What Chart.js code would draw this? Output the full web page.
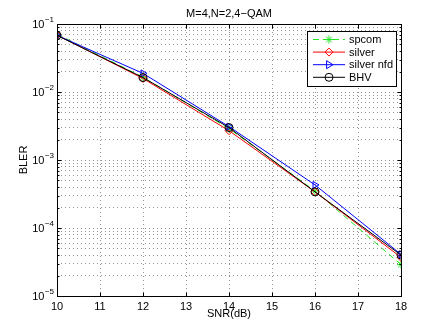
<!DOCTYPE html>
<html>
<head>
<meta charset="utf-8">
<script src="https://cdn.jsdelivr.net/npm/chart.js@4"></script>
<style>
  html, body { margin: 0; padding: 0; background: #fff; }
  #wrap { width: 443px; height: 333px; }
</style>
</head>
<body>
<div id="wrap"><canvas id="chart1"></canvas></div>
<script>
/* data */
const snr = [10, 12, 14, 16, 18];
const spcom = [0.071, 0.0165, 0.0029, 0.00035, 0.000029];
const silver = [0.069, 0.0158, 0.0027, 0.00034, 0.000037];
const silverNfd = [0.068, 0.0188, 0.0031, 0.00043, 0.000041];
const bhv = [0.068, 0.0163, 0.0030, 0.00034, 0.000040];

const seriesNames = ['spcom', 'silver', 'silver nfd', 'BHV'];
const xTicks = [10, 11, 12, 13, 14, 15, 16, 17, 18];
const yDecades = [-5, -4, -3, -2, -1];
const chartTitle = 'M=4,N=2,4\u2212QAM';

const FONT = "'Liberation Sans', Arial, Helvetica, sans-serif";

const toPoints = vals => vals.map((v, i) => ({x: snr[i], y: v}));

/* manual marker drawing so legend matches the plot */
function drawMarker(ctx, style, x, y, r) {
  ctx.beginPath();
  if (style === 'star') {
    for (let k = 0; k < 4; k++) {
      const a = k * Math.PI / 4;
      ctx.moveTo(x - r * Math.cos(a), y - r * Math.sin(a));
      ctx.lineTo(x + r * Math.cos(a), y + r * Math.sin(a));
    }
  } else if (style === 'rectRot') {
    ctx.moveTo(x, y - r); ctx.lineTo(x + r, y); ctx.lineTo(x, y + r); ctx.lineTo(x - r, y); ctx.closePath();
  } else if (style === 'triangle') {
    ctx.moveTo(x + r, y); ctx.lineTo(x - r * 0.6, y - r); ctx.lineTo(x - r * 0.6, y + r); ctx.closePath();
  } else {
    ctx.arc(x, y, r, 0, Math.PI * 2);
  }
  ctx.stroke();
}

const matlabAxes = {
  id: 'matlabAxes',
  afterDraw(chart) {
    const ctx = chart.ctx;
    const a = chart.chartArea;
    const x = chart.scales.x, y = chart.scales.y;
    ctx.save();
    ctx.strokeStyle = '#000';
    ctx.lineWidth = 1;
    ctx.setLineDash([]);

    /* frame */
    const L = Math.round(a.left) + 0.5, R = Math.round(a.right) + 0.5;
    const T = Math.round(a.top) + 0.5, B = Math.round(a.bottom) + 0.5;
    ctx.strokeRect(L, T, R - L, B - T);

    /* inward ticks */
    ctx.beginPath();
    xTicks.forEach(v => {
      const px = Math.round(x.getPixelForValue(v)) + 0.5;
      ctx.moveTo(px, B); ctx.lineTo(px, B - 4);
      ctx.moveTo(px, T); ctx.lineTo(px, T + 4);
    });
    y.ticks.forEach(t => {
      const py = Math.round(y.getPixelForValue(t.value)) + 0.5;
      const len = t.major ? 4 : 2;
      ctx.moveTo(L, py); ctx.lineTo(L + len, py);
      ctx.moveTo(R, py); ctx.lineTo(R - len, py);
    });
    ctx.stroke();

    /* y tick labels 10^k */
    ctx.fillStyle = '#000';
    ctx.textBaseline = 'middle';
    yDecades.forEach(e => {
      const py = y.getPixelForValue(Math.pow(10, e));
      const exp = '\u2212' + Math.abs(e);
      ctx.font = '8px ' + FONT;
      const ew = ctx.measureText(exp).width;
      ctx.textAlign = 'left';
      const ex = a.left - 3 - ew;
      ctx.fillText(exp, ex, py - 4);
      ctx.font = '11px ' + FONT;
      ctx.textAlign = 'right';
      ctx.fillText('10', ex - 0.5, py + 1);
    });

    /* title */
    ctx.font = '11px ' + FONT;
    ctx.textAlign = 'center';
    ctx.fillText(chartTitle, (a.left + a.right) / 2, 14);

    /* legend */
    const bx = 307.5, by = 31.5, bw = 89, bh = 55;
    ctx.fillStyle = '#fff';
    ctx.fillRect(bx, by, bw, bh);
    ctx.strokeStyle = '#000';
    ctx.strokeRect(bx, by, bw, bh);
    chart.data.datasets.forEach((ds, i) => {
      const ry = 39.5 + i * 12.6;
      ctx.strokeStyle = ds.borderColor;
      ctx.lineWidth = 1;
      ctx.setLineDash(ds.borderDash || []);
      ctx.beginPath();
      ctx.moveTo(313, ry); ctx.lineTo(345, ry);
      ctx.stroke();
      ctx.setLineDash([]);
      drawMarker(ctx, ds.pointStyle, 329, ry, 4);
      ctx.fillStyle = '#000';
      ctx.font = '11px ' + FONT;
      ctx.textAlign = 'left';
      ctx.fillText(ds.label, 349, ry + 0.5);
    });
    ctx.restore();
  }
};

const chart1 = document.querySelector('#chart1');

const gridStyle = {color: 'rgba(0,0,0,0.42)', lineWidth: 1, drawTicks: false, tickLength: 0};

new Chart(chart1, {
  type: 'line',
  data: {
    datasets: [{
      label: seriesNames[0],
      data: toPoints(spcom),
      borderColor: '#22e622',
      borderDash: [6, 4],
      pointStyle: 'star',
      order: 4
    }, {
      label: seriesNames[1],
      data: toPoints(silver),
      borderColor: '#ff0000',
      pointStyle: 'rectRot',
      order: 3
    }, {
      label: seriesNames[2],
      data: toPoints(silverNfd),
      borderColor: '#0000ff',
      pointStyle: 'triangle',
      pointRotation: 90,
      order: 2
    }, {
      label: seriesNames[3],
      data: toPoints(bhv),
      borderColor: '#000000',
      pointStyle: 'circle',
      order: 1
    }]
  },
  options: {
    responsive: true,
    maintainAspectRatio: false,
    animation: false,
    elements: {
      line: {borderWidth: 1, tension: 0, fill: false},
      point: {radius: 4, borderWidth: 1, backgroundColor: 'rgba(0,0,0,0)', hoverRadius: 4}
    },
    layout: {padding: {left: 0, right: 42, top: 24, bottom: 0}},
    plugins: {
      legend: {display: false},
      tooltip: {enabled: false},
      title: {display: false}
    },
    scales: {
      x: {
        type: 'linear',
        min: 10,
        max: 18,
        afterBuildTicks: s => { s.ticks = xTicks.map(v => ({value: v})); },
        afterFit: s => { s.height = 37; },
        ticks: {color: '#000', font: {family: FONT, size: 11}, padding: 4, autoSkip: false},
        grid: gridStyle,
        border: {display: false, dash: [1, 3]},
        title: {display: true, text: 'SNR(dB)', color: '#000', font: {family: FONT, size: 11}, padding: {top: 0, bottom: 12}}
      },
      y: {
        type: 'logarithmic',
        min: 1e-5,
        max: 1e-1,
        afterBuildTicks: s => {
          const t = [];
          yDecades.forEach((e, k) => {
            for (let m = 1; m <= 9; m++) {
              if (k === yDecades.length - 1 && m > 1) break;
              t.push({value: m * Math.pow(10, e), major: m === 1});
            }
          });
          s.ticks = t;
        },
        afterFit: s => { s.width = 57; },
        ticks: {display: false, autoSkip: false},
        grid: gridStyle,
        border: {display: false, dash: [1, 3]},
        title: {display: true, text: 'BLER', color: '#000', font: {family: FONT, size: 11}, padding: {top: 17, bottom: 0}}
      }
    }
  },
  plugins: [matlabAxes]
});
</script>
</body>
</html>
